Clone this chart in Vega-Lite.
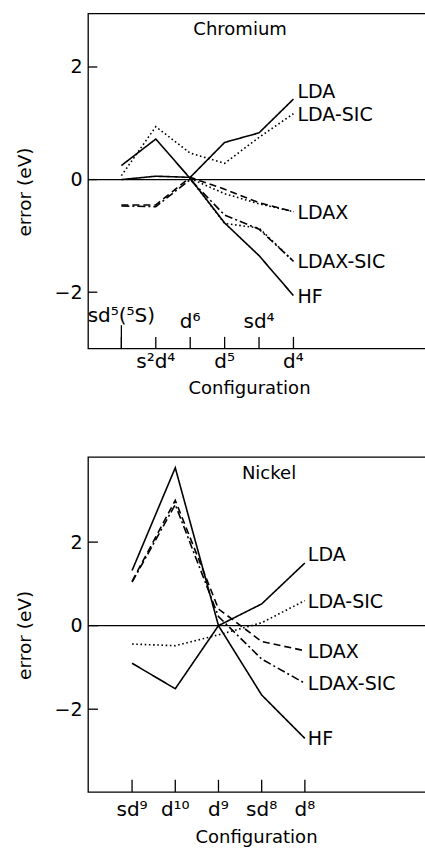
{
  "$schema": "https://vega.github.io/schema/vega-lite/v6.json",
  "padding": {"left": 14, "top": 12.5, "right": 0, "bottom": 0},
  "background": "white",
  "bounds": "flush",
  "spacing": 108.4,
  "config": {
    "font": "DejaVu Sans",
    "view": {"stroke": "black", "strokeWidth": 1.3},
    "axis": {"grid": false, "domain": false, "labelColor": "black", "titleColor": "black", "tickColor": "black", "labelFont": "DejaVu Sans", "titleFont": "DejaVu Sans", "titleFontWeight": "normal"}
  },
  "datasets": {
    "cr": [
      {"method": "LDA", "i": 0, "error": 0.0}, {"method": "LDA", "i": 1, "error": 0.06}, {"method": "LDA", "i": 2, "error": 0.04}, {"method": "LDA", "i": 3, "error": 0.66}, {"method": "LDA", "i": 4, "error": 0.83}, {"method": "LDA", "i": 5, "error": 1.43},
      {"method": "HF", "i": 0, "error": 0.25}, {"method": "HF", "i": 1, "error": 0.72}, {"method": "HF", "i": 2, "error": 0.02}, {"method": "HF", "i": 3, "error": -0.77}, {"method": "HF", "i": 4, "error": -1.35}, {"method": "HF", "i": 5, "error": -2.06},
      {"method": "LDA-SIC", "i": 0, "error": 0.07}, {"method": "LDA-SIC", "i": 1, "error": 0.94}, {"method": "LDA-SIC", "i": 2, "error": 0.47}, {"method": "LDA-SIC", "i": 3, "error": 0.29}, {"method": "LDA-SIC", "i": 4, "error": 0.75}, {"method": "LDA-SIC", "i": 5, "error": 1.17},
      {"method": "LDAX", "i": 0, "error": -0.45}, {"method": "LDAX", "i": 1, "error": -0.45}, {"method": "LDAX", "i": 2, "error": 0.04}, {"method": "LDAX", "i": 3, "error": -0.17}, {"method": "LDAX", "i": 4, "error": -0.41}, {"method": "LDAX", "i": 5, "error": -0.57},
      {"method": "LDAX-SIC", "i": 0, "error": -0.47}, {"method": "LDAX-SIC", "i": 1, "error": -0.48}, {"method": "LDAX-SIC", "i": 2, "error": 0.0}, {"method": "LDAX-SIC", "i": 3, "error": -0.63}, {"method": "LDAX-SIC", "i": 4, "error": -0.88}, {"method": "LDAX-SIC", "i": 5, "error": -1.45},
      {"method": "LDAX dotted", "i": 2, "error": 0.02}, {"method": "LDAX dotted", "i": 3, "error": -0.25}, {"method": "LDAX dotted", "i": 4, "error": -0.43}, {"method": "LDAX dotted", "i": 5, "error": -0.57},
      {"method": "LDAX-SIC dotted", "i": 2, "error": 0.02}, {"method": "LDAX-SIC dotted", "i": 3, "error": -0.78}, {"method": "LDAX-SIC dotted", "i": 4, "error": -0.86}, {"method": "LDAX-SIC dotted", "i": 5, "error": -1.45}
    ],
    "ni": [
      {"method": "HF", "i": 0, "error": 1.32}, {"method": "HF", "i": 1, "error": 3.78}, {"method": "HF", "i": 2, "error": 0.0}, {"method": "HF", "i": 3, "error": -1.66}, {"method": "HF", "i": 4, "error": -2.7},
      {"method": "LDA", "i": 0, "error": -0.9}, {"method": "LDA", "i": 1, "error": -1.51}, {"method": "LDA", "i": 2, "error": 0.0}, {"method": "LDA", "i": 3, "error": 0.52}, {"method": "LDA", "i": 4, "error": 1.5},
      {"method": "LDA-SIC", "i": 0, "error": -0.44}, {"method": "LDA-SIC", "i": 1, "error": -0.48}, {"method": "LDA-SIC", "i": 2, "error": -0.22}, {"method": "LDA-SIC", "i": 3, "error": 0.07}, {"method": "LDA-SIC", "i": 4, "error": 0.6},
      {"method": "LDAX", "i": 0, "error": 1.06}, {"method": "LDAX", "i": 1, "error": 3.0}, {"method": "LDAX", "i": 2, "error": 0.4}, {"method": "LDAX", "i": 3, "error": -0.38}, {"method": "LDAX", "i": 4, "error": -0.6},
      {"method": "LDAX-SIC", "i": 0, "error": 1.04}, {"method": "LDAX-SIC", "i": 1, "error": 2.9}, {"method": "LDAX-SIC", "i": 2, "error": 0.22}, {"method": "LDAX-SIC", "i": 3, "error": -0.8}, {"method": "LDAX-SIC", "i": 4, "error": -1.38}
    ],
    "crcfg": [
      {"i": 0, "label": "sd⁵(⁵S)"}, {"i": 1, "label": "s²d⁴"}, {"i": 2, "label": "d⁶"}, {"i": 3, "label": "d⁵"}, {"i": 4, "label": "sd⁴"}, {"i": 5, "label": "d⁴"}
    ],
    "nicfg": [
      {"i": 0, "label": "sd⁹"}, {"i": 1, "label": "d¹⁰"}, {"i": 2, "label": "d⁹"}, {"i": 3, "label": "sd⁸"}, {"i": 4, "label": "d⁸"}
    ],
    "zero": [{"v": 0}],
    "yticks": [{"v": -2}, {"v": 0}, {"v": 2}],
    "crtitle": [{"name": "Chromium"}],
    "nititle": [{"name": "Nickel"}]
  },
  "vconcat": [
    {
      "width": 340,
      "height": 335,
      "layer": [
        {
          "data": {"name": "zero"},
          "mark": {"type": "rule", "stroke": "black", "strokeWidth": 1.3},
          "encoding": {
            "y": {"field": "v", "type": "quantitative", "scale": {"domain": [-3, 2.95], "nice": false, "zero": false},
              "axis": {"values": [-2, 0, 2], "format": "d", "ticks": false, "labelPadding": 6, "labelFontSize": 19, "title": "error (eV)", "titleFontSize": 18.5, "titleAngle": 270, "titleX": -58, "titleY": 178, "titleBaseline": "alphabetic"}}
          }
        },
        {
          "data": {"name": "yticks"},
          "mark": {"type": "rule", "stroke": "black", "strokeWidth": 1.3},
          "encoding": {
            "y": {"field": "v", "type": "quantitative"},
            "x": {"datum": -0.97, "type": "quantitative"},
            "x2": {"datum": -0.70}
          }
        },
        {
          "data": {"name": "cr"},
          "mark": {"type": "line", "stroke": "black", "strokeWidth": 1.6},
          "encoding": {
            "x": {"field": "i", "type": "quantitative", "scale": {"domain": [-0.97, 8.91], "nice": false, "zero": false},
              "axis": {"ticks": false, "labels": false, "title": "Configuration", "titleFontSize": 18, "titleX": 161, "titleY": 45, "titleBaseline": "alphabetic"}},
            "y": {"field": "error", "type": "quantitative"},
            "strokeDash": {"field": "method", "type": "nominal", "legend": null,
              "scale": {"domain": ["LDA", "HF", "LDA-SIC", "LDAX", "LDAX-SIC", "LDAX dotted", "LDAX-SIC dotted"],
                "range": [[1, 0], [1, 0], [1.6, 2.6], [7, 4], [8, 3, 2, 3], [1.6, 2.6], [1.6, 2.6]]}}
          }
        },
        {
          "data": {"name": "cr"},
          "transform": [{"filter": "datum.i == 5 && indexof(['LDA-SIC','LDAX','LDAX-SIC','HF'], datum.method) >= 0"}],
          "mark": {"type": "text", "align": "left", "baseline": "middle", "dx": 4, "dy": 1, "fontSize": 19, "font": "DejaVu Sans", "color": "black"},
          "encoding": {
            "x": {"field": "i", "type": "quantitative"},
            "y": {"field": "error", "type": "quantitative"},
            "text": {"field": "method"}
          }
        },
        {
          "data": {"name": "cr"},
          "transform": [{"filter": "datum.i == 5 && datum.method == 'LDA'"}],
          "mark": {"type": "text", "align": "left", "baseline": "middle", "dx": 4, "dy": -7, "fontSize": 19, "font": "DejaVu Sans", "color": "black"},
          "encoding": {
            "x": {"field": "i", "type": "quantitative"},
            "y": {"field": "error", "type": "quantitative"},
            "text": {"field": "method"}
          }
        },
        {
          "data": {"name": "crtitle"},
          "mark": {"type": "text", "align": "center", "baseline": "alphabetic", "fontSize": 18, "font": "DejaVu Sans", "color": "black"},
          "encoding": {
            "x": {"datum": 3.45, "type": "quantitative"},
            "y": {"datum": 2.565, "type": "quantitative"},
            "text": {"field": "name"}
          }
        },
        {
          "data": {"name": "crcfg"},
          "mark": {"type": "rule", "stroke": "black", "strokeWidth": 1.3},
          "encoding": {
            "x": {"field": "i", "type": "quantitative"},
            "y": {"datum": -3},
            "y2": {"datum": -2.794}
          }
        },
        {
          "data": {"name": "crcfg"},
          "transform": [{"filter": "datum.i == 0"}],
          "mark": {"type": "rule", "stroke": "black", "strokeWidth": 1.3},
          "encoding": {
            "x": {"field": "i", "type": "quantitative"},
            "y": {"datum": -3},
            "y2": {"datum": -2.586}
          }
        },
        {
          "data": {"name": "crcfg"},
          "transform": [{"filter": "datum.i == 0"}],
          "mark": {"type": "text", "align": "center", "baseline": "alphabetic", "fontSize": 20, "font": "DejaVu Sans", "color": "black"},
          "encoding": {
            "x": {"field": "i", "type": "quantitative"},
            "y": {"datum": -2.53},
            "text": {"field": "label"}
          }
        },
        {
          "data": {"name": "crcfg"},
          "transform": [{"filter": "datum.i == 2 || datum.i == 4"}],
          "mark": {"type": "text", "align": "center", "baseline": "alphabetic", "fontSize": 20, "font": "DejaVu Sans", "color": "black"},
          "encoding": {
            "x": {"field": "i", "type": "quantitative"},
            "y": {"datum": -2.64},
            "text": {"field": "label"}
          }
        },
        {
          "data": {"name": "crcfg"},
          "transform": [{"filter": "datum.i == 1 || datum.i == 3 || datum.i == 5"}],
          "mark": {"type": "text", "align": "center", "baseline": "alphabetic", "fontSize": 20, "font": "DejaVu Sans", "color": "black"},
          "encoding": {
            "x": {"field": "i", "type": "quantitative"},
            "y": {"datum": -3.355},
            "text": {"field": "label"}
          }
        }
      ]
    },
    {
      "width": 340,
      "height": 335,
      "layer": [
        {
          "data": {"name": "zero"},
          "mark": {"type": "rule", "stroke": "black", "strokeWidth": 1.3},
          "encoding": {
            "y": {"field": "v", "type": "quantitative", "scale": {"domain": [-3.98, 4.04], "nice": false, "zero": false},
              "axis": {"values": [-2, 0, 2], "format": "d", "ticks": false, "labelPadding": 6, "labelFontSize": 19, "title": "error (eV)", "titleFontSize": 18.5, "titleAngle": 270, "titleX": -58, "titleY": 178, "titleBaseline": "alphabetic"}}
          }
        },
        {
          "data": {"name": "yticks"},
          "mark": {"type": "rule", "stroke": "black", "strokeWidth": 1.3},
          "encoding": {
            "y": {"field": "v", "type": "quantitative"},
            "x": {"datum": -1.02, "type": "quantitative"},
            "x2": {"datum": -0.79}
          }
        },
        {
          "data": {"name": "ni"},
          "mark": {"type": "line", "stroke": "black", "strokeWidth": 1.6},
          "encoding": {
            "x": {"field": "i", "type": "quantitative", "scale": {"domain": [-1.02, 6.85], "nice": false, "zero": false},
              "axis": {"ticks": false, "labels": false, "title": "Configuration", "titleFontSize": 18, "titleX": 168, "titleY": 50.5, "titleBaseline": "alphabetic"}},
            "y": {"field": "error", "type": "quantitative"},
            "strokeDash": {"field": "method", "type": "nominal", "legend": null,
              "scale": {"domain": ["LDA", "HF", "LDA-SIC", "LDAX", "LDAX-SIC"],
                "range": [[1, 0], [1, 0], [1.6, 2.6], [7, 4], [8, 3, 2, 3]]}}
          }
        },
        {
          "data": {"name": "ni"},
          "transform": [{"filter": "datum.i == 4 && indexof(['LDA-SIC','LDAX','LDAX-SIC','HF'], datum.method) >= 0"}],
          "mark": {"type": "text", "align": "left", "baseline": "middle", "dx": 3, "dy": 1, "fontSize": 19, "font": "DejaVu Sans", "color": "black"},
          "encoding": {
            "x": {"field": "i", "type": "quantitative"},
            "y": {"field": "error", "type": "quantitative"},
            "text": {"field": "method"}
          }
        },
        {
          "data": {"name": "ni"},
          "transform": [{"filter": "datum.i == 4 && datum.method == 'LDA'"}],
          "mark": {"type": "text", "align": "left", "baseline": "middle", "dx": 3, "dy": -8, "fontSize": 19, "font": "DejaVu Sans", "color": "black"},
          "encoding": {
            "x": {"field": "i", "type": "quantitative"},
            "y": {"field": "error", "type": "quantitative"},
            "text": {"field": "method"}
          }
        },
        {
          "data": {"name": "nititle"},
          "mark": {"type": "text", "align": "center", "baseline": "alphabetic", "fontSize": 18, "font": "DejaVu Sans", "color": "black"},
          "encoding": {
            "x": {"datum": 3.17, "type": "quantitative"},
            "y": {"datum": 3.506, "type": "quantitative"},
            "text": {"field": "name"}
          }
        },
        {
          "data": {"name": "nicfg"},
          "mark": {"type": "rule", "stroke": "black", "strokeWidth": 1.3},
          "encoding": {
            "x": {"field": "i", "type": "quantitative"},
            "y": {"datum": -3.98},
            "y2": {"datum": -3.69}
          }
        },
        {
          "data": {"name": "nicfg"},
          "mark": {"type": "text", "align": "center", "baseline": "alphabetic", "fontSize": 20, "font": "DejaVu Sans", "color": "black"},
          "encoding": {
            "x": {"field": "i", "type": "quantitative"},
            "y": {"datum": -4.555},
            "text": {"field": "label"}
          }
        }
      ]
    }
  ]
}
